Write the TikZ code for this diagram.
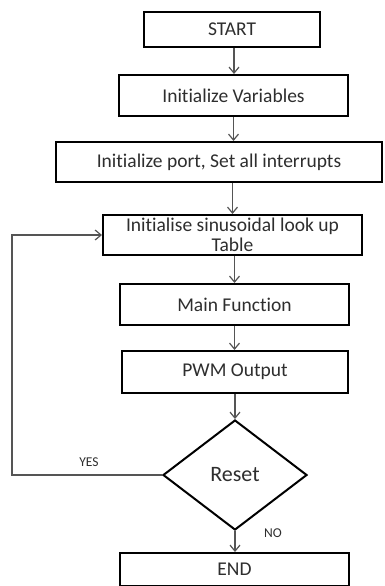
\documentclass[tikz,border=0pt]{standalone}
\usepackage{fontspec}
\setmainfont{Carlito}[Ligatures=NoCommon]
\usetikzlibrary{shapes.geometric,arrows.meta}
\definecolor{txt}{HTML}{2E2E2E}
\definecolor{wire}{HTML}{555555}
\begin{document}
\begin{tikzpicture}[x=1pt,y=-1pt,
  box/.style={draw=black,line width=2pt,rectangle,inner sep=1pt,
    text=txt,font=\fontsize{19.5}{21}\selectfont,align=center},
  decision/.style={draw=black,line width=2pt,diamond,inner sep=0pt,
    minimum width=144pt,minimum height=110pt,text=txt,
    font=\fontsize{22}{24}\selectfont},
  arr/.style={draw=wire,line width=1.2pt,
    -{Straight Barb[length=6pt,width=10pt,line width=1.2pt]}},
  wirelabel/.style={text=txt,font=\fontsize{13.5}{14}\selectfont,inner sep=0pt}]
\useasboundingbox (0,0) rectangle (384,586);
\fill[white] (0,0) rectangle (384,586);

% process boxes
\node[box,minimum width=176pt,minimum height=35pt] (start) at (232,29.5) {START};
\node[box,minimum width=229pt,minimum height=41pt] (vars) at (233.5,95.5) {Initialize Variables};
\node[box,minimum width=326pt,minimum height=40pt] (port) at (219,162) {Initialize port, Set all interrupts};
\node[box,minimum width=259pt,minimum height=40pt,inner sep=0pt] (table) at (232.5,235)
  {Initialise sinusoidal look up\\[-1pt]Table};
\node[box,minimum width=229pt,minimum height=41pt] (main) at (234.5,304.5) {Main Function};
\node[box,minimum width=226pt,minimum height=42pt] (pwm) at (235,372) {PWM Output};
\node[decision] (reset) at (235,475) {Reset};
\node[box,minimum width=229pt,minimum height=33pt] (end) at (234.5,569.5) {END};

% main flow
\draw[arr] (start.south -| vars.north) ++(0.5,0) coordinate (s1) -- (s1 |- vars.north);
\draw[arr] (vars.south) -- (vars.south |- port.north);
\draw[arr] (table.north |- port.south) -- (table.north);
\draw[arr] (table.south -| main.north) -- (main.north);
\draw[arr] (main.south) -- (main.south |- pwm.north);
\draw[arr] (pwm.south) -- (reset.north);
\draw[arr] (reset.south) -- (reset.south |- end.north);

% loop back on reset
\coordinate (loop) at (12,475);
\draw[arr] (reset.west) -- (loop) |- (table.west);

% branch labels
\node[wirelabel] (yes) at (89,462) {YES};
\node[wirelabel] (no) at (273,533) {NO};
\end{tikzpicture}
\end{document}
